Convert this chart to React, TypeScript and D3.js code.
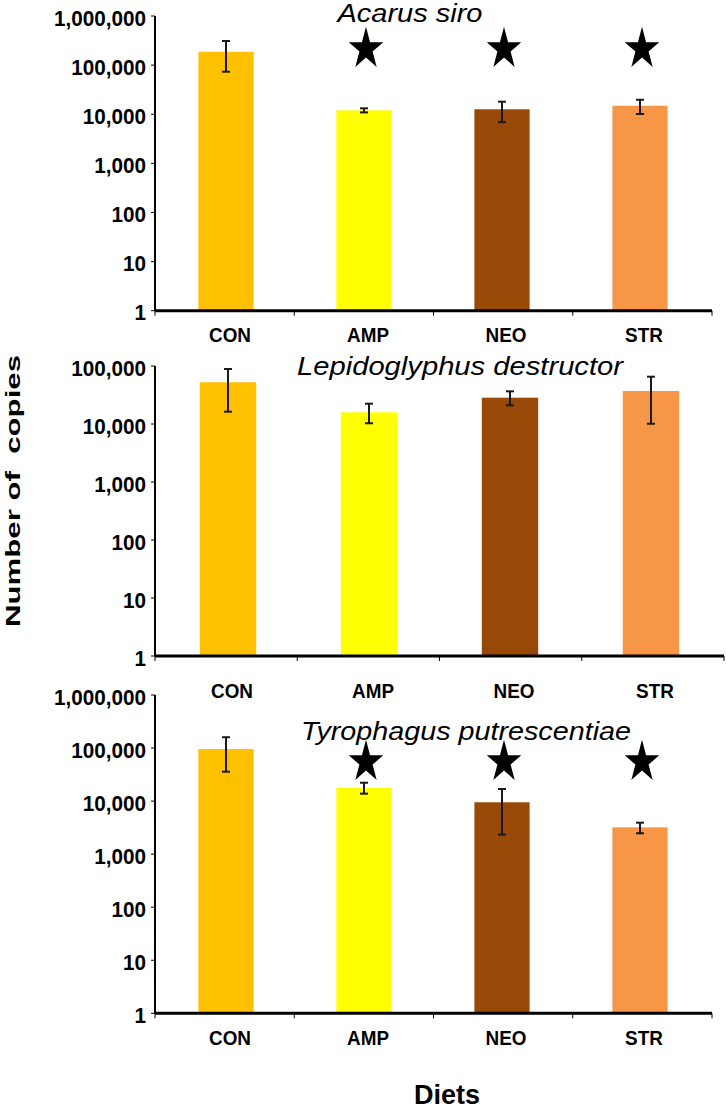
import React from "react";
import * as d3 from "d3";

// diets on the x axis and the bar colours (Excel palette)
const diets = ["CON", "AMP", "NEO", "STR"];
const dietColors = ["#FFC000", "#FFFF00", "#984807", "#F79646"];

// Acarus siro: mean copies and error bar ends
const acarusMeans = [187000, 12000, 12600, 14900];
const acarusLow = [73400, 10900, 6900, 10100];
const acarusHigh = [310000, 13200, 18000, 19700];
const acarusStars = [false, true, true, true];

// Lepidoglyphus destructor
const lepidoMeans = [52400, 15900, 28400, 37100];
const lepidoLow = [16300, 10300, 21000, 10100];
const lepidoHigh = [88800, 22400, 36600, 65400];
const lepidoStars = [false, false, false, false];

// Tyrophagus putrescentiae
const tyroMeans = [96000, 17700, 9500, 3200];
const tyroLow = [35800, 13800, 2330, 2470];
const tyroHigh = [160000, 22200, 16900, 3920];
const tyroStars = [false, true, true, true];

const ticksSixDecades = [1, 10, 100, 1000, 10000, 100000, 1000000];
const ticksFiveDecades = [1, 10, 100, 1000, 10000, 100000];

const FONT = "'Liberation Sans', Arial, sans-serif";
const fmt = d3.format(",");

interface PanelProps {
  title: string;
  means: number[];
  low: number[];
  high: number[];
  stars: boolean[];
  ticks: number[];
  yTop: number;
  yBottom: number;
  axisEnd: number;
  barRange: [number, number];
  labelY: number;
  starY: number;
  titleX: number;
  titleY: number;
  titleLen: number;
}

const Panel: React.FC<PanelProps> = (p) => {
  const axisStart = 155;
  const y = d3.scaleLog()
    .domain([1, p.ticks[p.ticks.length - 1]])
    .range([p.yBottom, p.yTop]);
  const x = d3.scaleBand<string>()
    .domain(diets)
    .range(p.barRange)
    .paddingInner(0.6)
    .paddingOuter(0.3);
  const xTicks = d3.scaleBand<string>().domain(diets).range([axisStart, p.axisEnd]);
  const tickXs = diets.map((d) => xTicks(d) as number).concat([p.axisEnd]);
  const bw = x.bandwidth();
  const cap = 4;

  // 5 point star, stretched a bit vertically like the original
  const star = d3.symbol(d3.symbolStar, 370)() as string;

  return (
    <g>
      {/* bars */}
      {diets.map((d, i) => (
        <rect key={d} x={x(d)} y={y(p.means[i])} width={bw}
          height={p.yBottom - y(p.means[i])} fill={dietColors[i]} />
      ))}
      {/* error bars */}
      {diets.map((d, i) => {
        const cx = (x(d) as number) + bw / 2;
        return (
          <g key={d} stroke="#1a1a1a" strokeWidth={2}>
            <line x1={cx} x2={cx} y1={y(p.high[i])} y2={y(p.low[i])} />
            <line x1={cx - cap} x2={cx + cap} y1={y(p.high[i])} y2={y(p.high[i])} />
            <line x1={cx - cap} x2={cx + cap} y1={y(p.low[i])} y2={y(p.low[i])} />
          </g>
        );
      })}
      {/* stars */}
      {diets.map((d, i) => p.stars[i] ? (
        <path key={d} d={star} fill="#000"
          transform={`translate(${(x(d) as number) + bw / 2 + 2},${p.starY + 2}) scale(1,1.22)`} />
      ) : null)}
      {/* y axis */}
      <line x1={axisStart} x2={axisStart} y1={p.yTop} y2={p.yBottom} stroke="#000" strokeWidth={2} />
      {p.ticks.map((t) => (
        <g key={t}>
          <line x1={axisStart - 4} x2={axisStart} y1={y(t)} y2={y(t)} stroke="#000" strokeWidth={1} />
          <text transform={`translate(146,${y(t) + 9.5}) scale(0.94,1)`} textAnchor="end"
            fontFamily={FONT} fontWeight="bold" fontSize={22}>
            {fmt(t)}
          </text>
        </g>
      ))}
      {/* x axis */}
      <line x1={axisStart} x2={p.axisEnd} y1={p.yBottom} y2={p.yBottom} stroke="#000" strokeWidth={3} />
      {tickXs.map((tx, i) => (
        <line key={i} x1={tx} x2={tx} y1={p.yBottom} y2={p.yBottom + 5} stroke="#000" strokeWidth={1} />
      ))}
      {diets.map((d) => (
        <text key={d} transform={`translate(${(x(d) as number) + bw / 2 + 4},${p.labelY}) scale(0.9,1)`}
          textAnchor="middle" fontFamily={FONT} fontWeight="bold" fontSize={21}>{d}</text>
      ))}
      {/* species title */}
      <text x={p.titleX} y={p.titleY} textAnchor="middle" fontFamily={FONT} fontStyle="italic"
        fontSize={25} textLength={p.titleLen} lengthAdjust="spacingAndGlyphs">{p.title}</text>
    </g>
  );
};

const App: React.FC = () => {
  return (
    <svg width={726} height={1112} style={{ position: "absolute", left: 0, top: 0, background: "#fff" }}>
      <rect width={726} height={1112} fill="#fff" />
      <Panel title="Acarus siro" means={acarusMeans} low={acarusLow} high={acarusHigh}
        stars={acarusStars} ticks={ticksSixDecades} yTop={16} yBottom={310.7} axisEnd={712}
        barRange={[157, 709]} labelY={342} starY={47} titleX={410} titleY={22} titleLen={145} />
      <Panel title="Lepidoglyphus destructor" means={lepidoMeans} low={lepidoLow} high={lepidoHigh}
        stars={lepidoStars} ticks={ticksFiveDecades} yTop={366} yBottom={656} axisEnd={724}
        barRange={[157.5, 721.5]} labelY={698} starY={0} titleX={460} titleY={375} titleLen={326} />
      <Panel title="Tyrophagus putrescentiae" means={tyroMeans} low={tyroLow} high={tyroHigh}
        stars={tyroStars} ticks={ticksSixDecades} yTop={695} yBottom={1013.3} axisEnd={712}
        barRange={[157, 709]} labelY={1045} starY={760} titleX={466} titleY={740} titleLen={330} />
      <text transform="translate(20,491) rotate(-90)" textAnchor="middle" fontFamily={FONT}
        fontWeight="bold" fontSize={21} textLength={272} lengthAdjust="spacingAndGlyphs"
        style={{ whiteSpace: "pre" }}>Number of  copies</text>
      <text x={447} y={1104} textAnchor="middle" fontFamily={FONT} fontWeight="bold" fontSize={27}>Diets</text>
    </svg>
  );
};

export default App;
